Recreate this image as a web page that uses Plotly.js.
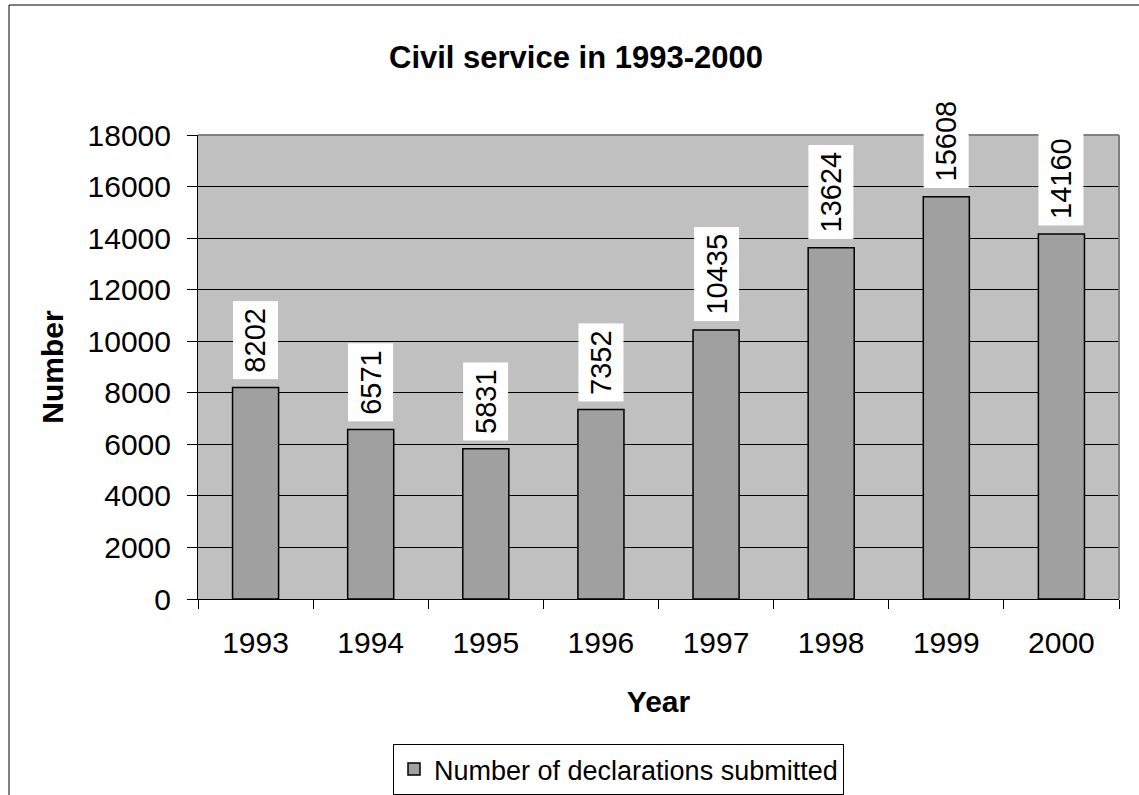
<!DOCTYPE html>
<html>
<head>
<meta charset="utf-8">
<script src="https://cdn.plot.ly/plotly-3.0.1.min.js"></script>
<style>html,body{margin:0;padding:0;background:#fff;}#chart{width:1139px;height:795px;}</style>
</head>
<body>
<div id="chart"></div>
<script>
const years = ['1993','1994','1995','1996','1997','1998','1999','2000'];
const declarations = [8202, 6571, 5831, 7352, 10435, 13624, 15608, 14160];
const seriesName = 'Number of declarations submitted';
const chartTitle = 'Civil service in 1993-2000';
const xTitle = 'Year';
const yTitle = 'Number';

const FONT = 'Arial, "Liberation Sans", sans-serif';

const trace = {
  type: 'bar',
  x: years,
  y: declarations,
  name: seriesName,
  marker: {color: '#a0a0a0', line: {color: '#000', width: 1.5}},
  showlegend: true,
  hoverinfo: 'x+y'
};

// annotations on a category axis are positioned by category index
const annotations = years.map((yr, i) => ({
  x: i, y: declarations[i], xref: 'x', yref: 'y',
  text: String(declarations[i]),
  textangle: -90,
  showarrow: false,
  yanchor: 'bottom',
  yshift: 8,
  bgcolor: '#ffffff',
  borderpad: 6,
  font: {family: FONT, size: 29, color: '#000'}
}));

const layout = {
  width: 1139, height: 795,
  margin: {l: 198, r: 20, t: 135, b: 196, autoexpand: false},
  paper_bgcolor: '#ffffff',
  plot_bgcolor: '#c0c0c0',
  font: {family: FONT, color: '#000'},
  title: {
    text: '<b>' + chartTitle + '</b>',
    font: {family: FONT, size: 31, color: '#000'},
    xref: 'paper', x: (576 - 198) / 921, xanchor: 'center',
    yref: 'container', y: 1 - 57 / 795, yanchor: 'middle'
  },
  xaxis: {
    type: 'category',
    range: [-0.5, years.length - 0.5],
    tickson: 'boundaries',
    ticks: 'outside', ticklen: 9, tickcolor: '#000', tickwidth: 1,
    ticklabelstandoff: 17,
    showline: true, linecolor: '#000', linewidth: 1,
    showgrid: false,
    tickangle: 0,
    tickfont: {family: FONT, size: 30, color: '#000'},
    title: {text: '<b>' + xTitle + '</b>', font: {family: FONT, size: 30, color: '#000'}, standoff: 32},
    automargin: false
  },
  yaxis: {
    range: [0, 18000],
    dtick: 2000, tick0: 0,
    ticks: 'outside', ticklen: 10, tickcolor: '#000', tickwidth: 1,
    ticklabelstandoff: 10,
    showline: true, linecolor: '#000', linewidth: 1,
    showgrid: true, gridcolor: '#000', gridwidth: 1,
    zeroline: false,
    tickformat: 'd',
    tickfont: {family: FONT, size: 30, color: '#000'},
    title: {text: '<b>' + yTitle + '</b>', font: {family: FONT, size: 30, color: '#000'}, standoff: 15},
    automargin: false
  },
  bargap: 0.6,
  legend: {
    orientation: 'h',
    x: (393 - 198) / 921, xanchor: 'left',
    y: (599 - 744) / 464, yanchor: 'top',
    bordercolor: '#000', borderwidth: 1, bgcolor: '#fff',
    font: {family: FONT, size: 27, color: '#000'}
  },
  annotations: annotations,
  shapes: [
    {type: 'line', xref: 'paper', yref: 'paper', x0: 0, x1: 1, y0: 1, y1: 1, line: {color: '#808080', width: 2}, layer: 'above'},
    {type: 'line', xref: 'paper', yref: 'paper', x0: 1, x1: 1, y0: 0, y1: 1, line: {color: '#808080', width: 2}, layer: 'above'},
    {type: 'line', xref: 'paper', yref: 'paper', x0: (9 - 198) / 921, x1: (1145 - 198) / 921, y0: (599 - 5) / 464, y1: (599 - 5) / 464, line: {color: '#000', width: 1}},
    {type: 'line', xref: 'paper', yref: 'paper', x0: (9 - 198) / 921, x1: (9 - 198) / 921, y0: (599 - 5) / 464, y1: (599 - 800) / 464, line: {color: '#000', width: 1}}
  ]
};

Plotly.newPlot('chart', [trace], layout, {displayModeBar: false, staticPlot: true});
</script>
</body>
</html>
